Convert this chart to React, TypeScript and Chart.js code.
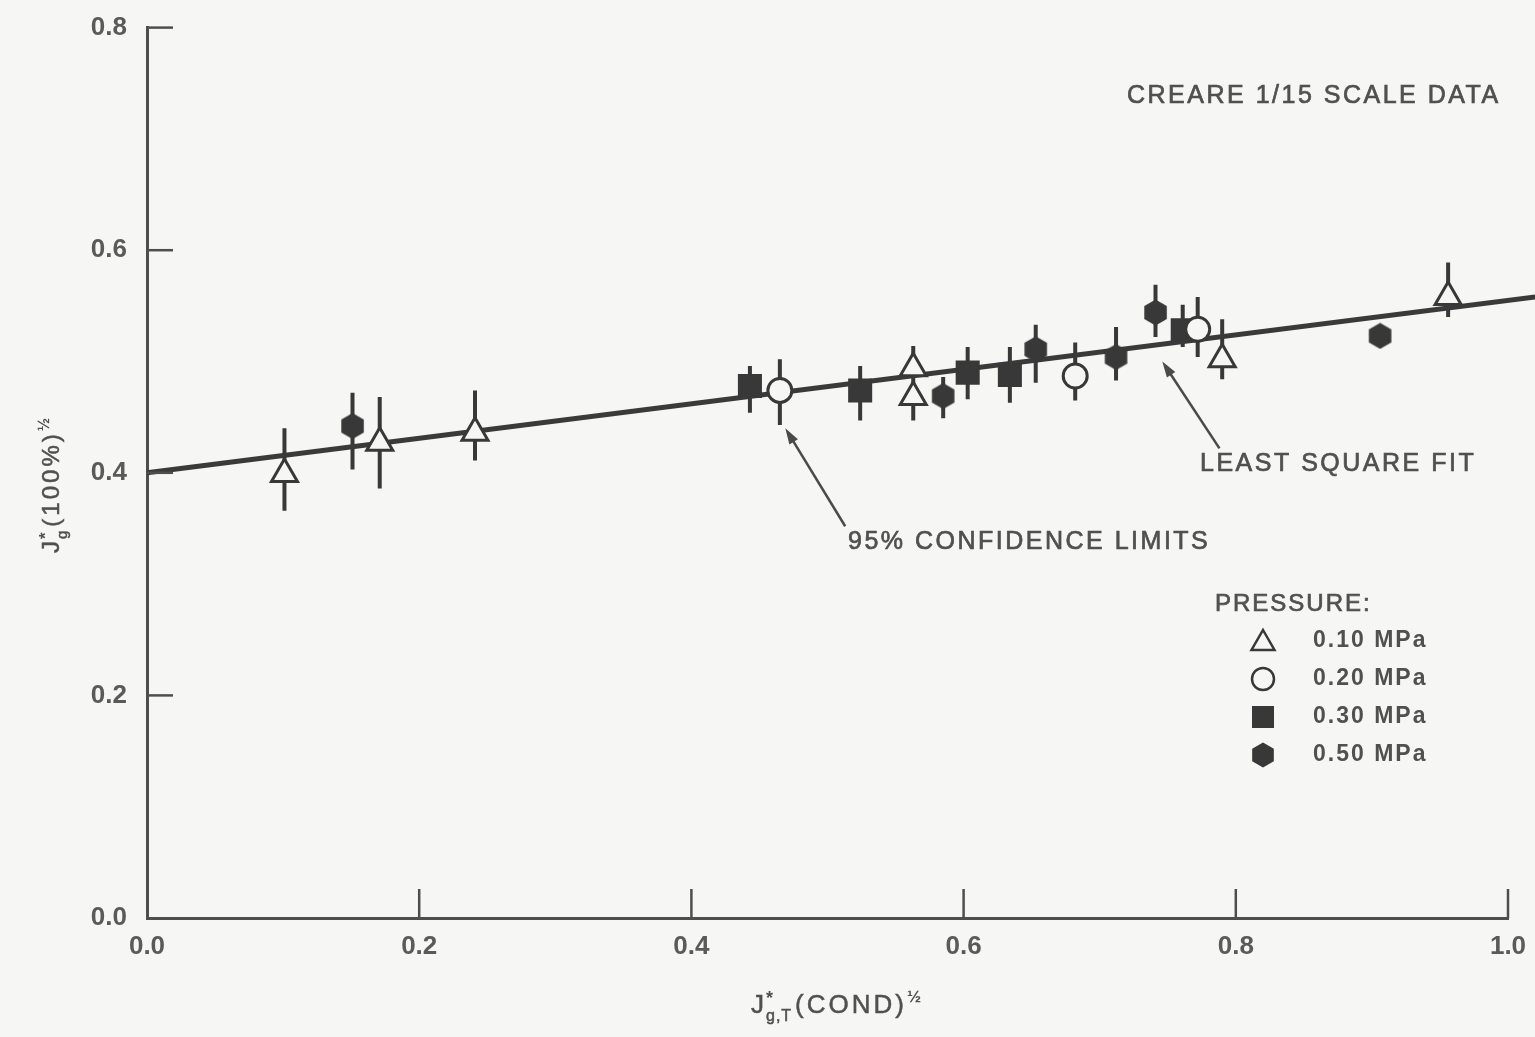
import React, { useEffect, useRef } from "react";
import { Chart, registerables } from "chart.js";

Chart.register(...registerables);

// Axis tick values
const X_TICKS = [0.2, 0.4, 0.6, 0.8, 1.0];
const Y_TICKS = [0.2, 0.4, 0.6, 0.8];

// 0.10 MPa (open triangles)
const p10X = [0.101, 0.171, 0.241, 0.563, 0.563, 0.79, 0.956];
const p10Y = [0.399, 0.427, 0.436, 0.494, 0.468, 0.502, 0.558];
const p10Lo = [0.366, 0.386, 0.411, 0.478, 0.447, 0.484, 0.54];
const p10Hi = [0.44, 0.468, 0.474, 0.514, 0.484, 0.538, 0.589];

// 0.20 MPa (open circles)
const p20X = [0.465, 0.682, 0.772];
const p20Y = [0.474, 0.487, 0.529];
const p20Lo = [0.443, 0.465, 0.504];
const p20Hi = [0.502, 0.517, 0.558];

// 0.30 MPa (filled squares)
const p30X = [0.443, 0.524, 0.603, 0.634, 0.761];
const p30Y = [0.478, 0.474, 0.49, 0.488, 0.528];
const p30Lo = [0.454, 0.447, 0.466, 0.463, 0.513];
const p30Hi = [0.496, 0.496, 0.513, 0.513, 0.551];

// 0.50 MPa (filled hexagons)
const p50X = [0.151, 0.585, 0.653, 0.712, 0.741, 0.906];
const p50Y = [0.442, 0.469, 0.511, 0.504, 0.544, 0.523];
const p50Lo = [0.403, 0.449, 0.481, 0.483, 0.522, 0.523];
const p50Hi = [0.472, 0.486, 0.533, 0.531, 0.569, 0.523];

// Least square fit line
const FIT_X = [0, 1.02];
const FIT_Y = [0.4, 0.558];

const LEGEND_LABELS = ["0.10 MPa", "0.20 MPa", "0.30 MPa", "0.50 MPa"];

const BG = "#f6f6f4";
const INK = "#383838";
const AXIS = "#4e4e4e";
const TEXT = "#505050";
const FONT = "'Liberation Sans', Arial, Helvetica, sans-serif";

function points(xs: number[], ys: number[]) {
  return xs.map((x, i) => ({ x, y: ys[i] }));
}

function bars(xs: number[], lo: number[], hi: number[]) {
  const out: { x: number; y: number | null }[] = [];
  xs.forEach((x, i) => {
    out.push({ x, y: lo[i] }, { x, y: hi[i] }, { x, y: null });
  });
  return out;
}

function makeHexagon(size: number, color: string) {
  const c = document.createElement("canvas");
  c.width = size;
  c.height = size;
  const ctx = c.getContext("2d")!;
  const r = size / 2 - 0.5;
  ctx.beginPath();
  for (let i = 0; i < 6; i++) {
    const a = -Math.PI / 2 + (i * Math.PI) / 3;
    const px = size / 2 + r * Math.cos(a);
    const py = size / 2 + r * Math.sin(a);
    if (i === 0) ctx.moveTo(px, py);
    else ctx.lineTo(px, py);
  }
  ctx.closePath();
  ctx.fillStyle = color;
  ctx.fill();
  return c;
}

function drawArrow(ctx: CanvasRenderingContext2D, x1: number, y1: number, x2: number, y2: number) {
  // shaft from (x1,y1) to the head at (x2,y2)
  const ang = Math.atan2(y2 - y1, x2 - x1);
  const len = 16;
  const half = 5;
  ctx.save();
  ctx.strokeStyle = "#4a4a4a";
  ctx.fillStyle = "#4a4a4a";
  ctx.lineWidth = 2.5;
  ctx.beginPath();
  ctx.moveTo(x1, y1);
  ctx.lineTo(x2 - Math.cos(ang) * len * 0.8, y2 - Math.sin(ang) * len * 0.8);
  ctx.stroke();
  ctx.beginPath();
  ctx.moveTo(x2, y2);
  ctx.lineTo(x2 - Math.cos(ang) * len - Math.sin(ang) * half, y2 - Math.sin(ang) * len + Math.cos(ang) * half);
  ctx.lineTo(x2 - Math.cos(ang) * len + Math.sin(ang) * half, y2 - Math.sin(ang) * len - Math.cos(ang) * half);
  ctx.closePath();
  ctx.fill();
  ctx.restore();
}

// medium-weight text: fill plus a hairline stroke
function heavyText(ctx: CanvasRenderingContext2D, t: string, x: number, y: number) {
  ctx.fillText(t, x, y);
  ctx.strokeText(t, x, y);
}

// J* with subscript, a parenthesised part and a ½ exponent, drawn from a baseline start
function drawJLabel(ctx: CanvasRenderingContext2D, x: number, y: number, sub: string, rest: string, size: number) {
  const small = Math.round(size * 0.62);
  (ctx as any).letterSpacing = "1px";
  ctx.textAlign = "left";
  ctx.textBaseline = "alphabetic";
  ctx.font = `${size}px ${FONT}`;
  heavyText(ctx, "J", x, y);
  const jw = ctx.measureText("J").width;
  ctx.font = `bold ${small + 2}px ${FONT}`;
  ctx.fillText("*", x + jw + 1, y - size * 0.35);
  ctx.font = `${small}px ${FONT}`;
  heavyText(ctx, sub, x + jw + 1, y + size * 0.32);
  const sw = Math.max(ctx.measureText(sub).width, 8);
  ctx.font = `${size}px ${FONT}`;
  (ctx as any).letterSpacing = "3px";
  heavyText(ctx, rest, x + jw + sw + 4, y);
  const rw = ctx.measureText(rest).width;
  ctx.font = `bold ${small + 1}px ${FONT}`;
  (ctx as any).letterSpacing = "0px";
  ctx.fillText("½", x + jw + sw + 4 + rw, y - size * 0.42);
}

const decor = {
  id: "decor",
  afterDraw(chart: any) {
    const ctx: CanvasRenderingContext2D = chart.ctx;
    const xs = chart.scales.x;
    const ys = chart.scales.y;
    const area = chart.chartArea;
    const X = (v: number) => xs.getPixelForValue(v);
    const Y = (v: number) => ys.getPixelForValue(v);

    ctx.save();
    // inward tick marks
    ctx.strokeStyle = AXIS;
    ctx.lineWidth = 2.5;
    Y_TICKS.forEach((v) => {
      ctx.beginPath();
      ctx.moveTo(area.left, Y(v));
      ctx.lineTo(area.left + 26, Y(v));
      ctx.stroke();
    });
    X_TICKS.forEach((v) => {
      ctx.beginPath();
      ctx.moveTo(X(v), area.bottom);
      ctx.lineTo(X(v), area.bottom - 29);
      ctx.stroke();
    });

    ctx.fillStyle = TEXT;
    ctx.strokeStyle = TEXT;
    ctx.lineWidth = 0.7;
    ctx.textBaseline = "middle";
    ctx.textAlign = "left";
    ctx.font = `25px ${FONT}`;
    (ctx as any).letterSpacing = "2.5px";
    heavyText(ctx, "CREARE 1/15 SCALE DATA", 1127, 96);
    heavyText(ctx, "LEAST SQUARE FIT", 1200, 464);
    heavyText(ctx, "95% CONFIDENCE LIMITS", 848, 542);

    drawArrow(ctx, X(0.788), Y(0.422), X(0.746), Y(0.5));
    drawArrow(ctx, X(0.513), Y(0.352), X(0.469), Y(0.44));

    // legend
    ctx.fillStyle = TEXT;
    ctx.strokeStyle = TEXT;
    ctx.lineWidth = 0.7;
    ctx.textBaseline = "middle";
    ctx.font = `24px ${FONT}`;
    (ctx as any).letterSpacing = "2px";
    heavyText(ctx, "PRESSURE:", 1215, 604);
    const lx = 1263;
    const rows = [641, 679, 717, 755];
    ctx.font = `bold 23px ${FONT}`;
    (ctx as any).letterSpacing = "2px";
    LEGEND_LABELS.forEach((t, i) => ctx.fillText(t, 1313, rows[i]));
    (ctx as any).letterSpacing = "0px";
    ctx.strokeStyle = INK;
    ctx.lineWidth = 2.5;
    // triangle
    ctx.beginPath();
    ctx.moveTo(lx, rows[0] - 11);
    ctx.lineTo(lx + 11.5, rows[0] + 9);
    ctx.lineTo(lx - 11.5, rows[0] + 9);
    ctx.closePath();
    ctx.stroke();
    // circle
    ctx.beginPath();
    ctx.arc(lx, rows[1], 11, 0, Math.PI * 2);
    ctx.stroke();
    // square
    ctx.fillStyle = INK;
    ctx.fillRect(lx - 11, rows[2] - 11, 22, 22);
    // hexagon
    ctx.beginPath();
    for (let i = 0; i < 6; i++) {
      const a = -Math.PI / 2 + (i * Math.PI) / 3;
      const px = lx + 12.5 * Math.cos(a);
      const py = rows[3] + 12.5 * Math.sin(a);
      if (i === 0) ctx.moveTo(px, py);
      else ctx.lineTo(px, py);
    }
    ctx.closePath();
    ctx.fill();

    // axis titles
    ctx.fillStyle = TEXT;
    ctx.strokeStyle = TEXT;
    ctx.lineWidth = 0.5;
    drawJLabel(ctx, 751, 1013, "g,T", "(COND)", 26);
    ctx.save();
    ctx.translate(59, 553);
    ctx.rotate(-Math.PI / 2);
    drawJLabel(ctx, 0, 0, "g", "(100%)", 24);
    ctx.restore();

    ctx.restore();
  },
};

export default function App() {
  const ref = useRef<HTMLCanvasElement>(null);

  useEffect(() => {
    if (!ref.current) return;
    const hex = makeHexagon(27, INK);
    const barStyle = {
      showLine: true,
      pointRadius: 0,
      borderColor: INK,
      borderWidth: 4,
      order: 2,
      clip: false as const,
    };
    const tickFont = { family: FONT, size: 26, weight: "bold" as const };
    const chart = new Chart(ref.current, {
      type: "scatter",
      data: {
        datasets: [
          { label: "0.10 MPa", data: points(p10X, p10Y), pointStyle: "triangle", pointRadius: 15, backgroundColor: BG, borderColor: INK, borderWidth: 3, order: 0 },
          { label: "0.20 MPa", data: points(p20X, p20Y), pointStyle: "circle", pointRadius: 12, backgroundColor: BG, borderColor: INK, borderWidth: 3, order: 0 },
          { label: "0.30 MPa", data: points(p30X, p30Y), pointStyle: "rect", pointRadius: 17, backgroundColor: INK, borderColor: INK, borderWidth: 0, order: 0 },
          { label: "0.50 MPa", data: points(p50X, p50Y), pointStyle: hex, pointRadius: 13, backgroundColor: INK, borderColor: INK, order: 0 },
          { label: "fit", data: points(FIT_X, FIT_Y), showLine: true, pointRadius: 0, borderColor: "#3a3a3a", borderWidth: 5, order: 1, clip: false },
          { label: "err10", data: bars(p10X, p10Lo, p10Hi), ...barStyle },
          { label: "err20", data: bars(p20X, p20Lo, p20Hi), ...barStyle },
          { label: "err30", data: bars(p30X, p30Lo, p30Hi), ...barStyle },
          { label: "err50", data: bars(p50X, p50Lo, p50Hi), ...barStyle },
        ] as any,
      },
      options: {
        animation: false,
        responsive: true,
        maintainAspectRatio: false,
        layout: { padding: { top: 25, right: 27, left: 0, bottom: 0 } },
        plugins: { legend: { display: false }, tooltip: { enabled: false } },
        scales: {
          x: {
            type: "linear",
            min: 0,
            max: 1,
            afterFit: (s: any) => {
              s.height = 119;
            },
            grid: { display: false },
            border: { display: true, color: AXIS, width: 3 },
            ticks: {
              stepSize: 0.2,
              autoSkip: false,
              maxRotation: 0,
              padding: 5,
              color: "#5a5a5a",
              font: tickFont,
              callback: (v: any) => Number(v).toFixed(1),
            },
          },
          y: {
            type: "linear",
            min: 0,
            max: 0.8,
            afterFit: (s: any) => {
              s.width = 147;
            },
            grid: { display: false },
            border: { display: true, color: AXIS, width: 3 },
            ticks: {
              stepSize: 0.2,
              autoSkip: false,
              padding: 12,
              color: "#5a5a5a",
              font: tickFont,
              callback: (v: any) => Number(v).toFixed(1),
            },
          },
        },
      } as any,
      plugins: [decor],
    });
    return () => chart.destroy();
  }, []);

  return (
    <div style={{ position: "fixed", left: 0, top: 0, width: 1535, height: 1037, background: BG }}>
      <canvas ref={ref} />
    </div>
  );
}
